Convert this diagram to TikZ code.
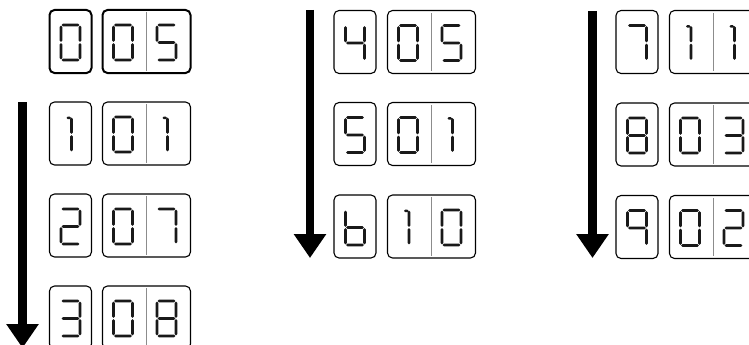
\documentclass[tikz,border=0pt]{standalone}
\usetikzlibrary{arrows.meta,calc}
\newcommand\lcdh[3]{\fill (#1,#3) -- ({#1+1.3},{#3-1.3}) -- ({#2-1.3},{#3-1.3}) -- (#2,#3) -- ({#2-1.3},{#3+1.3}) -- ({#1+1.3},{#3+1.3}) -- cycle;}
\newcommand\lcdv[3]{\fill (#3,#1) -- ({#3+1.3},{#1+1.3}) -- ({#3+1.3},{#2-1.3}) -- (#3,#2) -- ({#3-1.3},{#2-1.3}) -- ({#3-1.3},{#1+1.3}) -- cycle;}
\newcommand\lcdsega{\lcdh{-8.8}{8.8}{-17.5}}
\newcommand\lcdsegb{\lcdv{-16.8}{-0.7}{9.5}}
\newcommand\lcdsegc{\lcdv{0.7}{16.8}{9.5}}
\newcommand\lcdsegd{\lcdh{-8.8}{8.8}{17.5}}
\newcommand\lcdsege{\lcdv{0.7}{16.8}{-9.5}}
\newcommand\lcdsegf{\lcdv{-16.8}{-0.7}{-9.5}}
\newcommand\lcdsegg{\lcdh{-8.8}{8.8}{0}}
\tikzset{
  pics/d0/.style={code={\lcdsega\lcdsegb\lcdsegc\lcdsegd\lcdsege\lcdsegf}},
  pics/d1/.style={code={\lcdv{-16.8}{-0.7}{1}\lcdv{0.7}{16.8}{1}\lcdh{-4}{0.6}{-16.6}}},
  pics/d2/.style={code={\lcdsega\lcdsegb\lcdsegg\lcdsege\lcdsegd}},
  pics/d3/.style={code={\lcdsega\lcdsegb\lcdsegg\lcdsegc\lcdsegd}},
  pics/d4/.style={code={\lcdsegf\lcdsegg\lcdsegb\lcdsegc}},
  pics/d5/.style={code={\lcdsega\lcdsegf\lcdsegg\lcdsegc\lcdsegd}},
  pics/d6/.style={code={\lcdsegf\lcdsegg\lcdsege\lcdsegc\lcdsegd}},
  pics/d7/.style={code={\lcdsega\lcdsegb\lcdsegc}},
  pics/d8/.style={code={\lcdsega\lcdsegb\lcdsegc\lcdsegd\lcdsege\lcdsegf\lcdsegg}},
  pics/d9/.style={code={\lcdsega\lcdsegb\lcdsegc\lcdsegf\lcdsegg}},
  lcdbox/.style={draw=black, rounded corners=5pt, line width=1.1pt, inner sep=0pt, minimum height=63pt},
  sbox/.style={lcdbox, minimum width=42pt},
  dbox/.style={lcdbox, minimum width=88pt},
  boldbox/.style={line width=2pt},
  divider/.style={draw=black!45, line width=0.8pt},
  bigarrow/.style={line width=#1, draw=black, -{Triangle[width=31pt,length=24pt]}},
}
\newcommand\single[4]{% name, pos, digit, extra
  \node[sbox,#4] (#1) at #2 {};
  \pic[black!90] at ($(#1.center)+(0,1)$) {d#3};
}
\newcommand\double[5]{% name, pos, digit1, digit2, extra
  \node[dbox,#5] (#1) at #2 {};
  \draw[divider] ($(#1.north)+(0,3)$) -- ($(#1.south)+(0,-3)$);
  \pic[black!90] at ($(#1.center)+(-23.5,1)$) {d#3};
  \pic[black!90] at ($(#1.center)+(20,1)$) {d#4};
}
\begin{document}
\begin{tikzpicture}[x=1pt,y=-1pt]
\useasboundingbox (0,0) rectangle (749,345);
\fill[white] (0,0) rectangle (749,345);
% column 1
\single{a0}{(70.5,41.5)}{0}{boldbox}
\double{b0}{(146.5,41.5)}{0}{5}{boldbox}
\single{a1}{(70.5,133.5)}{1}{}
\double{b1}{(146.5,133.5)}{0}{1}{}
\single{a2}{(70.5,225.5)}{2}{}
\double{b2}{(146.5,225.5)}{0}{7}{}
\single{a3}{(70.5,317.5)}{3}{}
\double{b3}{(146.5,317.5)}{0}{8}{}
% column 2
\single{a4}{(355,42)}{4}{}
\double{b4}{(431.5,42)}{0}{5}{}
\single{a5}{(355,134)}{5}{}
\double{b5}{(431.5,134)}{0}{1}{}
\single{a6}{(355,226.5)}{6}{}
\double{b6}{(431.5,226.5)}{1}{0}{}
% column 3
\single{a7}{(637,42)}{7}{}
\double{b7}{(713.5,42)}{1}{1}{}
\single{a8}{(637,134.5)}{8}{}
\double{b8}{(713.5,134.5)}{0}{3}{}
\single{a9}{(637,227)}{9}{}
\double{b9}{(713.5,227)}{0}{2}{}
% arrows
\coordinate (s1) at (22.5,102);
\coordinate (e1) at (22.5,348);
\coordinate (s2) at (310,10);
\coordinate (e2) at (310,258);
\coordinate (s3) at (592.5,11);
\coordinate (e3) at (592.5,258);
\draw[bigarrow=8.5pt] (s1) -- (e1);
\draw[bigarrow=7.5pt] (s2) -- (e2);
\draw[bigarrow=8.5pt] (s3) -- (e3);
\end{tikzpicture}
\end{document}
